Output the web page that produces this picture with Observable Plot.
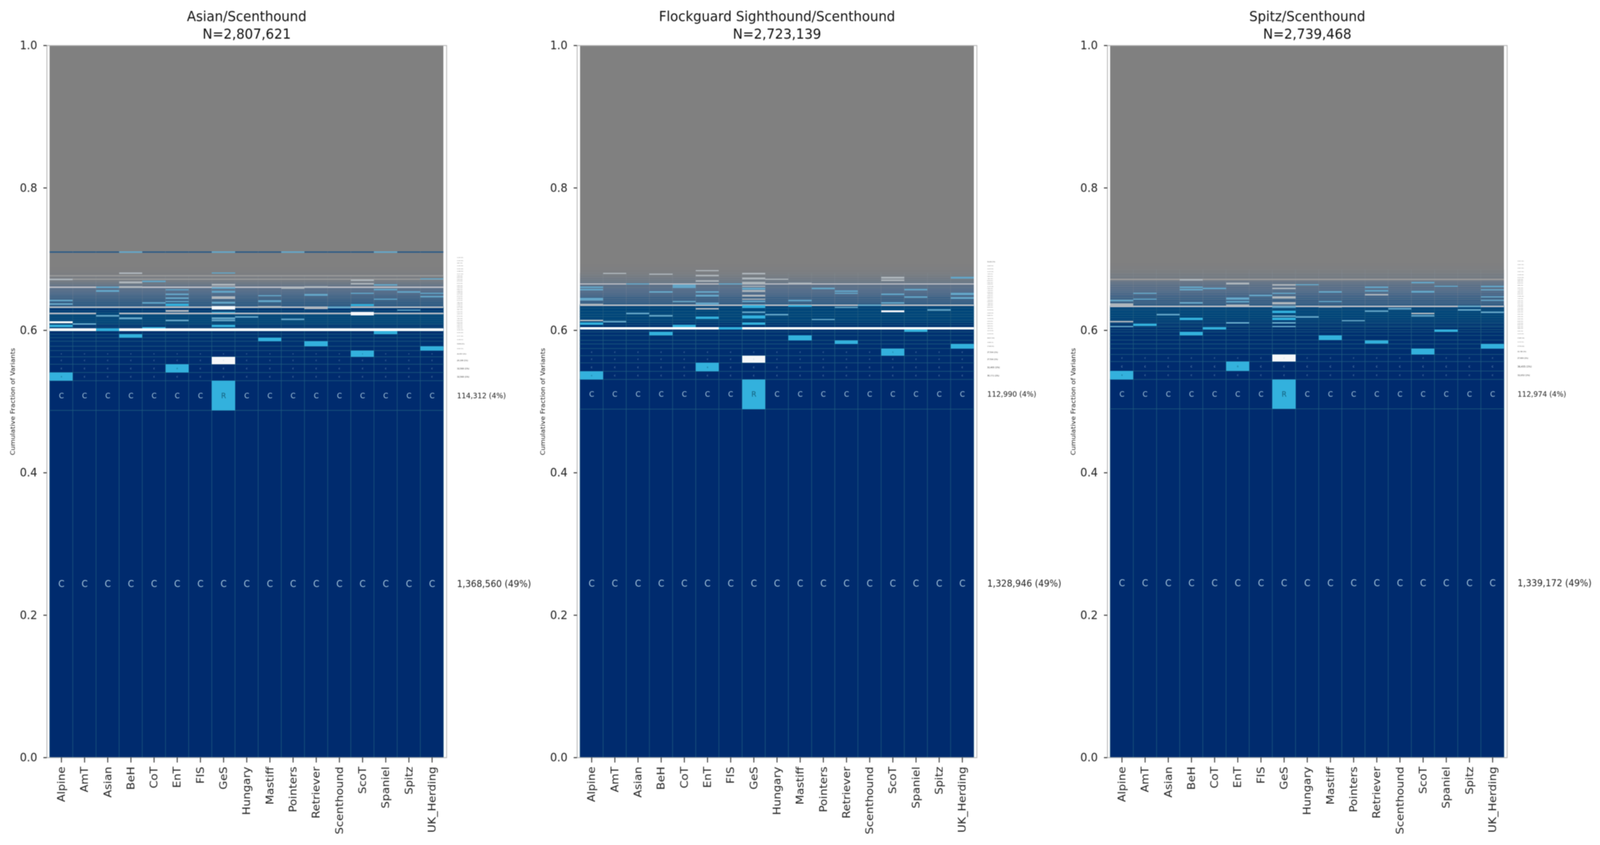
<!DOCTYPE html>
<html>
<head>
<meta charset="utf-8">
<script src="https://cdn.jsdelivr.net/npm/d3@7"></script>
<script src="https://cdn.jsdelivr.net/npm/@observablehq/plot@0.6"></script>
<style>
html,body{margin:0;background:#fff;overflow:hidden}
#fig svg{display:block;max-width:none;width:100vw;height:100vh;filter:blur(0.9px);font-family:"DejaVu Sans"}
</style>
</head>
<body>
<div id="fig"></div>
<script>
const breeds = ["Alpine","AmT","Asian","BeH","CoT","EnT","FIS","GeS","Hungary","Mastiff","Pointers","Retriever","Scenthound","ScoT","Spaniel","Spitz","UK_Herding"];
const titles = ["Asian/Scenthound","Flockguard Sighthound/Scenthound","Spitz/Scenthound"];
const totals = [2807621,2723139,2739468];
const topCounts = [[1368560,114312],[1328946,112990],[1339172,112974]];
const stackTops = [0.706,0.7078,0.7023];
const yTicks = [0,0.2,0.4,0.6,0.8,1];

// [upper cumulative fraction of the row, share of variants unresolved (grey)]
const bands1 = [[.4874,0],[.529,0],[.5406,0],[.5522,0],[.5626,.02],[.5714,.03],[.5774,.03],[.5845,.06],[.5895,.06],[.5944,.08],[.5988,.05],[.6026,.05],[.6045,.05],[.6077,.1],[.6096,.18],[.6125,.25],[.6154,.25],[.6182,.25],[.6213,.25],[.6246,.25],[.6275,.15],[.6310,.1],[.6332,.1],[.6356,.42],[.6379,.44],[.6407,.46],[.6438,.5],[.6462,.52],[.6493,.55],[.6515,.57],[.6539,.6],[.6562,.62],[.6594,.68],[.6612,.72],[.6645,.78],[.6676,.85],[.6707,.9],[.6725,.92],[.6754,.94],[.6773,.96],[.6809,.97],[.6846,.98],[.6885,.99],[.6925,1],[.6960,1],[.7000,1],[.7040,1],[.7087,1],[.7109,.45],[1,1]];
const bands2 = [[.4892,0],[.5309,0],[.5422,0],[.5541,0],[.5642,.02],[.5743,.03],[.5807,.04],[.5858,.05],[.5926,.06],[.5975,.06],[.6012,.06],[.6041,.05],[.6077,.05],[.6108,.1],[.6142,.18],[.6191,.25],[.6224,.25],[.6264,.25],[.6310,.25],[.6341,.2],[.6363,.2],[.6389,.46],[.6412,.48],[.6440,.5],[.6473,.52],[.6497,.55],[.6524,.58],[.6548,.6],[.6575,.62],[.6597,.65],[.6639,.7],[.6659,.74],[.6681,.8],[.6711,.85],[.6740,.88],[.6776,.92],[.6804,.95],[.6846,.97],[.6885,.98],[.6925,.99],[.7,1],[.71,1],[1,1]];
const bands3 = [[.4895,0],[.5309,0],[.5426,0],[.5559,0],[.5660,.02],[.5743,.03],[.5807,.05],[.5861,.04],[.5926,.05],[.5975,.06],[.6008,.06],[.6044,.05],[.6061,.06],[.6092,.08],[.6112,.12],[.6143,.15],[.6176,.2],[.6209,.24],[.6242,.24],[.6275,.25],[.6297,.22],[.6325,.2],[.6346,.2],[.6374,.46],[.6396,.48],[.6429,.5],[.6458,.52],[.6497,.55],[.6528,.58],[.6553,.61],[.6579,.64],[.6612,.68],[.6648,.72],[.6678,.76],[.6703,.82],[.6722,.86],[.676,.9],[.68,.93],[.685,.96],[.69,.98],[.695,.99],[.70,1],[.705,1],[1,1]];

// rows that run across nearly every breed: [low, high, breeds left out]
const fullWhite1 = [[.5988,.6026,["Asian"]]];
const fullWhite2 = [[.6012,.6041,["FIS"]]];
const fullWhite3 = [];
const fullPale1 = [[.6224,.6246,["Asian"]],[.6310,.6332,["Scenthound"]],[.6594,.6612,["Asian"]]];
const fullPale2 = [[.6341,.6363,["Scenthound"]],[.6639,.6659,["Asian","FIS"]]];
const fullPale3 = [[.6325,.6346,["Spitz"]]];
const fullFaint1 = [[.6707,.6725,[]],[.6754,.6773,[]]];
const fullFaint2 = [];
const fullFaint3 = [[.6703,.6722,[]]];

// single cells: [breed, low, high]
const bright1 = [["Alpine",.5293,.5404],["Alpine",.6041,.6077],["Asian",.5988,.6026],["BeH",.5895,.5944],["CoT",.6026,.6045],["EnT",.5406,.5522],["EnT",.6341,.6370],["GeS",.4874,.5293],["GeS",.6041,.6077],["GeS",.6245,.6255],["Mastiff",.5845,.5895],["Retriever",.5774,.5845],["ScoT",.5626,.5714],["ScoT",.6341,.6365],["Spaniel",.5944,.5988],["UK_Herding",.5714,.5774]];
const bright2 = [["Alpine",.5309,.5422],["Alpine",.6077,.6108],["BeH",.5926,.5975],["CoT",.6041,.6077],["EnT",.5422,.5541],["EnT",.6160,.6191],["FIS",.6012,.6041],["GeS",.4892,.5309],["GeS",.6077,.6108],["GeS",.6163,.6206],["GeS",.6310,.6348],["Mastiff",.5858,.5926],["Mastiff",.6328,.6352],["Retriever",.5807,.5858],["ScoT",.5642,.5743],["Spaniel",.5975,.6012],["UK_Herding",.5743,.5807]];
const bright3 = [["Alpine",.5309,.5426],["BeH",.5926,.5975],["BeH",.6142,.6176],["AmT",.6059,.6092],["CoT",.6008,.6044],["EnT",.5426,.5559],["GeS",.4895,.5309],["GeS",.6142,.6173],["GeS",.6242,.6275],["Mastiff",.5861,.5926],["Retriever",.5810,.5858],["ScoT",.5660,.5743],["Spaniel",.5975,.6008],["UK_Herding",.5743,.5807]];

const dim1 = [["Alpine",.6356,.6379],["Alpine",.6407,.6429],["AmT",.6074,.6096],["Asian",.6191,.6213],["Asian",.6539,.6562],["Asian",.6590,.6615],["BeH",.6154,.6182],["BeH",.7087,.7109],["CoT",.6374,.6396],["CoT",.6676,.6694],["EnT",.6125,.6145],["EnT",.6392,.6411],["EnT",.6438,.6462],["EnT",.6493,.6515],["EnT",.6557,.6575],["GeS",.6123,.6147],["GeS",.6154,.6182],["GeS",.6374,.6398],["GeS",.6528,.6553],["GeS",.6579,.6603],["GeS",.6795,.6809],["GeS",.7087,.7109],["Hungary",.6176,.6198],["Mastiff",.6392,.6420],["Mastiff",.6476,.6495],["Pointers",.6142,.6163],["Pointers",.7087,.7109],["Retriever",.6480,.6507],["Scenthound",.6304,.6332],["ScoT",.6508,.6526],["Spaniel",.6557,.6579],["Spaniel",.6425,.6443],["Spaniel",.6627,.6645],["Spaniel",.7087,.7109],["Spitz",.6275,.6292],["Spitz",.6528,.6546],["UK_Herding",.6458,.6480],["UK_Herding",.6511,.6526],["UK_Herding",.6712,.6731]];
const dim2 = [["Alpine",.6594,.6612],["Alpine",.6561,.6579],["Alpine",.6414,.6456],["AmT",.6110,.6131],["Asian",.6224,.6246],["Asian",.6639,.6659],["BeH",.6191,.6213],["BeH",.6524,.6546],["CoT",.6392,.6412],["CoT",.6594,.6639],["EnT",.6524,.6548],["EnT",.6473,.6497],["EnT",.6356,.6389],["FIS",.6639,.6659],["GeS",.6242,.6264],["GeS",.6392,.6414],["GeS",.6570,.6597],["Hungary",.6209,.6231],["Mastiff",.6407,.6429],["Pointers",.6142,.6160],["Pointers",.6575,.6597],["Retriever",.6310,.6328],["Retriever",.6539,.6561],["Retriever",.6508,.6528],["Scenthound",.6341,.6363],["ScoT",.6374,.6396],["ScoT",.6493,.6513],["Spaniel",.6557,.6579],["Spaniel",.6456,.6476],["Spitz",.6275,.6297],["UK_Herding",.6495,.6524],["UK_Herding",.6440,.6464],["UK_Herding",.6725,.6749]];
const dim3 = [["Alpine",.6041,.6061],["Alpine",.6407,.6429],["AmT",.6508,.6528],["AmT",.6425,.6445],["Asian",.6209,.6231],["BeH",.6374,.6396],["BeH",.6594,.6612],["BeH",.6557,.6579],["CoT",.6575,.6595],["EnT",.6090,.6112],["EnT",.6388,.6410],["EnT",.6429,.6458],["FIS",.6475,.6497],["GeS",.6090,.6112],["GeS",.6041,.6059],["GeS",.6187,.6209],["GeS",.6508,.6528],["GeS",.6314,.6337],["Hungary",.6176,.6198],["Hungary",.6630,.6648],["Mastiff",.6524,.6546],["Mastiff",.6392,.6412],["Pointers",.6125,.6143],["Retriever",.6255,.6279],["Retriever",.6594,.6614],["Retriever",.6542,.6564],["Scenthound",.6290,.6312],["ScoT",.6189,.6211],["ScoT",.6659,.6678],["ScoT",.6528,.6553],["Spaniel",.6606,.6624],["Spitz",.6275,.6297],["Spitz",.6325,.6345],["UK_Herding",.6242,.6264],["UK_Herding",.6409,.6429],["UK_Herding",.6458,.6478],["UK_Herding",.6557,.6575],["UK_Herding",.6604,.6624]];

const pale1 = [["Alpine",.6700,.6725],["BeH",.6594,.6619],["BeH",.6658,.6685],["BeH",.6791,.6809],["EnT",.6255,.6282],["GeS",.6627,.6652],["GeS",.6438,.6474],["Mastiff",.6319,.6337],["Pointers",.6581,.6603],["Retriever",.6597,.6621],["Retriever",.6297,.6323],["ScoT",.6641,.6661],["ScoT",.6692,.6714]];
const pale2 = [["Alpine",.6123,.6145],["Alpine",.6348,.6374],["EnT",.6292,.6310],["EnT",.6680,.6703],["EnT",.6758,.6776],["EnT",.6828,.6846],["GeS",.6469,.6497],["GeS",.6427,.6444],["GeS",.6648,.6681],["GeS",.6606,.6626],["GeS",.6539,.6562],["GeS",.6712,.6740],["GeS",.6786,.6804],["Mastiff",.6652,.6670],["ScoT",.6692,.6711],["ScoT",.6725,.6749],["BeH",.6776,.6795],["Hungary",.6707,.6725],["AmT",.6791,.6804]];
const pale3 = [["GeS",.6361,.6392],["GeS",.6443,.6474],["GeS",.6575,.6597],["GeS",.6627,.6648],["Alpine",.6107,.6131],["Alpine",.6341,.6378],["EnT",.6641,.6667],["EnT",.6337,.6359],["BeH",.6694,.6718],["Retriever",.6489,.6511],["ScoT",.6224,.6244],["Mastiff",.6315,.6337]];

const white1 = [["Alpine",.6096,.6127],["GeS",.5522,.5626],["GeS",.6292,.6337],["ScoT",.6209,.6255]];
const white2 = [["GeS",.5541,.5642],["ScoT",.6250,.6279]];
const white3 = [["GeS",.5559,.5660]];

const panels = [
  {bands:bands1,fullWhite:fullWhite1,fullPale:fullPale1,fullFaint:fullFaint1,bright:bright1,dim:dim1,pale:pale1,white:white1},
  {bands:bands2,fullWhite:fullWhite2,fullPale:fullPale2,fullFaint:fullFaint2,bright:bright2,dim:dim2,pale:pale2,white:white2},
  {bands:bands3,fullWhite:fullWhite3,fullPale:fullPale3,fullFaint:fullFaint3,bright:bright3,dim:dim3,pale:pale3,white:white3}
];

const NAVY="#002b6e", CYAN="#33b1dd", TEAL="#1f5c80";
const fmt=d3.format(",.0f"), pct=d3.format(".0%");

const layers={grid:[],fullFaint:[],fullPale:[],dim:[],pale:[],fullWhite:[],white:[],bright:[],letters:[],labels:[],heads:[]};
const expand = (rows,panel) => rows.flatMap(([low,high,skip]) => breeds.filter(b=>!skip.includes(b)).map(breed=>({panel,breed,low,high})));
const cells = (rows,panel) => rows.map(([breed,low,high])=>({panel,breed,low,high}));
const labelFont=h=>Math.min(24,Math.max(2.8,470*h));

panels.forEach((p,i)=>{
  const panel=titles[i];
  const rows=[]; let low=0;
  for(const [top,g] of p.bands){ rows.push({low,high:top,g}); low=top; }
  layers.grid.push(...rows.flatMap(r=>breeds.map(breed=>({panel,breed,...r}))));
  rows.filter(r=>r.high<=stackTops[i]).forEach((r,k)=>{
    const h=r.high-r.low, n=k<2?topCounts[i][k]:h*totals[i];
    layers.labels.push({panel,y:(r.low+r.high)/2,size:labelFont(h),text:`${fmt(n)} (${pct(n/totals[i])})`});
  });
  const isBright=(b,r)=>p.bright.some(c=>c[0]===b&&Math.abs((c[1]+c[2])/2-(r.low+r.high)/2)<0.002);
  rows.filter(r=>r.high-r.low>=0.0085&&r.high<=stackTops[i]).forEach(r=>breeds.forEach(breed=>{
    const hi=isBright(breed,r);
    layers.letters.push({panel,breed,y:(r.low+r.high)/2,size:Math.min(24,470*(r.high-r.low)),text:hi?"R":"C",hi});
  }));
  for(const k of ["fullFaint","fullPale","fullWhite"]) layers[k].push(...expand(p[k],panel));
  for(const k of ["dim","pale","white","bright"]) layers[k].push(...cells(p[k],panel));
  layers.heads.push({panel,text:`${panel}\nN=${d3.format(",")(totals[i])}`});
});

const cellBar = (rows,opts) => Plot.barY(rows,{fx:"panel",x:"breed",y1:"low",y2:"high",shapeRendering:"crispEdges",...opts});
const svg=Plot.plot({
  width:4351,height:2162,marginLeft:127,marginRight:252,marginTop:116,marginBottom:224,
  style:{background:"#fff",fontFamily:"DejaVu Sans"},
  fx:{domain:titles,paddingInner:0.2464,paddingOuter:0,align:0,axis:null,label:null},
  x:{domain:breeds,padding:0,label:null},
  y:{domain:[0,1],label:null},
  color:{type:"linear",domain:[0,.25,.6,1],range:[NAVY,"#00457a","#4e6a8a","#808080"]},
  marks:[
    cellBar(layers.grid,{fill:"g"}),
    cellBar(layers.grid.filter(d=>d.g<.3),{fill:"none",stroke:TEAL,strokeWidth:1.5,strokeOpacity:.7,shapeRendering:"auto"}),
    cellBar(layers.grid.filter(d=>d.g>=.3&&d.g<.97),{fill:"none",stroke:"#8c929a",strokeWidth:1,strokeOpacity:.28,shapeRendering:"auto"}),
    cellBar(layers.fullFaint,{fill:"#9a9a9a"}),
    cellBar(layers.fullPale,{fill:"#b9bcc4"}),
    cellBar(layers.dim,{fill:"#64a6c8"}),
    cellBar(layers.pale,{fill:"#aeb6bc"}),
    cellBar(layers.fullWhite,{fill:"#ffffff"}),
    cellBar(layers.white,{fill:"#f7f8fa"}),
    cellBar(layers.bright,{fill:CYAN}),
    Plot.text(layers.letters.filter(d=>!d.hi),{fx:"panel",x:"breed",y:"y",text:"text",fontSize:"size",fill:"#a9c8de"}),
    Plot.text(layers.letters.filter(d=>d.hi),{fx:"panel",x:"breed",y:"y",text:"text",fontSize:"size",fill:"#15617e"}),
    Plot.frame({stroke:"#b4b4b4",strokeWidth:2.2}),
    Plot.axisX({anchor:"bottom",tickRotate:-90,tickSize:13,tickPadding:10,fontSize:29,stroke:"#333",strokeWidth:2.5,fill:"#222",label:null}),
    Plot.axisY({anchor:"left",facetAnchor:null,ticks:yTicks,tickFormat:".1f",tickSize:9,tickPadding:17,fontSize:30,stroke:"#333",strokeWidth:2.5,fill:"#222",label:null}),
    Plot.text(layers.labels.filter(d=>d.size>=3),{fx:"panel",frameAnchor:"right",y:"y",text:"text",fontSize:"size",dx:28,textAnchor:"start",fill:"#222"}),
    Plot.text(layers.labels.filter(d=>d.size<3),{fx:"panel",frameAnchor:"right",y:"y",text:"text",fontSize:"size",dx:28,textAnchor:"start",fill:"#5c5c5c"}),
    Plot.text(layers.heads,{fx:"panel",frameAnchor:"top",text:"text",dy:-18,lineAnchor:"bottom",lineHeight:1.24,fontSize:36,fill:"#111"}),
    Plot.text(titles.map(panel=>({panel,text:"Cumulative Fraction of Variants"})),{fx:"panel",frameAnchor:"left",text:"text",dx:-93,rotate:-90,fontSize:17.5,fill:"#222",textAnchor:"middle"})
  ]
});
svg.setAttribute("preserveAspectRatio","none");
svg.removeAttribute("width");
svg.removeAttribute("height");
document.getElementById("fig").appendChild(svg);
</script>
</body>
</html>
